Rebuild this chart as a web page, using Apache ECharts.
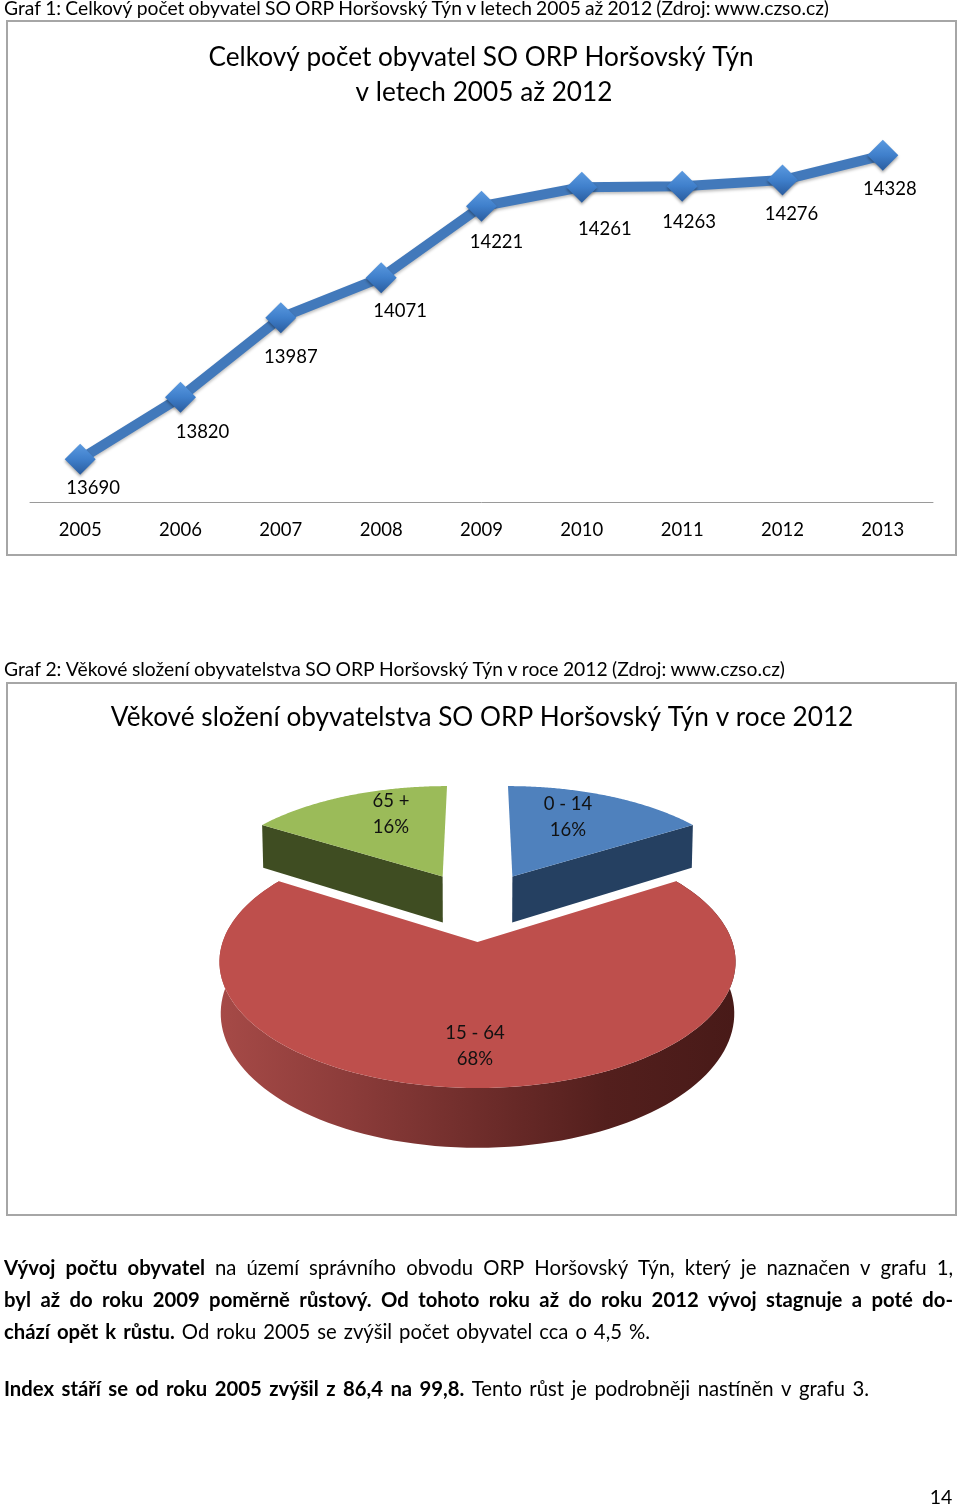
<!DOCTYPE html>
<html>
<head>
<meta charset="utf-8">
<title>Graf</title>
<style>
  html, body { margin: 0; padding: 0; background: #fff; }
  #chart { width: 960px; height: 1506px; }
</style>
<script src="https://cdn.jsdelivr.net/npm/echarts@6/dist/echarts.min.js"></script>
</head>
<body>
<div id="chart"></div>
<script>
  // graf 1
  var years = ["2005", "2006", "2007", "2008", "2009", "2010", "2011", "2012", "2013"];
  var population = [13690, 13820, 13987, 14071, 14221, 14261, 14263, 14276, 14328];
  // posun popisku od bodu
  var labelOffsets = [[13, 29], [22, 35], [10, 39], [19, 33], [15, 36], [23, 42], [7, 36], [9, 34], [7, 34]];

  // graf 2
  var ageGroups = ["0 - 14", "15 - 64", "65 +"];
  var agePercents = [16, 68, 16];
  var ageTopColors = ["#4f81bd", "#be4f4c", "#9bbb59"];
  var ageWallColors = ["#254061", "#7c3432", "#3f4d22"];
  var ageLabelPos = [[568, 817], [475, 1046], [391, 814]];

  var FONT = "Lato";
  var captions = [
    {y: 9, end: 829, runs: [["Graf 1: Celkový počet obyvatel SO ORP Horšovský Týn v letech 2005 až 2012 (Zdroj: www.czso.cz)", 0]]},
    {y: 670, end: 785, runs: [["Graf 2: Věkové složení obyvatelstva SO ORP Horšovský Týn v roce 2012 (Zdroj: www.czso.cz)", 0]]}
  ];
  var textLines = [
    {y: 1268, end: 953, runs: [["Vývoj počtu obyvatel", 1], ["na území správního obvodu ORP Horšovský Týn, který je naznačen v grafu 1,", 0]]},
    {y: 1300, end: 953, runs: [["byl až do roku 2009 poměrně růstový. Od tohoto roku až do roku 2012 vývoj stagnuje a poté do-", 1]]},
    {y: 1332, end: 650, runs: [["chází opět k růstu.", 1], ["Od roku 2005 se zvýšil počet obyvatel cca o 4,5 %.", 0]]},
    {y: 1389, end: 869, runs: [["Index stáří se od roku 2005 zvýšil z 86,4 na 99,8.", 1], ["Tento růst je podrobněji nastíněn v grafu 3.", 0]]}
  ];

  var measureCtx = document.createElement("canvas").getContext("2d");

  // radek rozlozi po slovech, aby sedel levy i pravy okraj
  function lineToWords(line, size) {
    var words = [], total = 0, out = [], x = 4;
    line.runs.forEach(function (r) {
      r[0].split(" ").forEach(function (w) {
        var font = (r[1] ? "bold " : "") + size + "px " + FONT;
        measureCtx.font = font;
        var width = measureCtx.measureText(w).width;
        words.push({text: w, font: font, width: width});
        total += width;
      });
    });
    var gap = (line.end - 4 - total) / (words.length - 1);
    words.forEach(function (w) {
      out.push({
        type: "text",
        style: {text: w.text, x: x, y: line.y, font: w.font, fill: "#000", textVerticalAlign: "middle"}
      });
      x += w.width + gap;
    });
    return out;
  }

  // perspektiva kolacoveho grafu: zem -> obrazovka
  var CX = 477.5, BASE_Y = 905.6, SCALE_X = 243, SCALE_Y = 111.9, PERSP = 0.15, EXPLODE = 0.31, WALL = 48;

  function project(gx, gy, bottom) {
    var w = 1 + PERSP * gy, sx = SCALE_X * gx / w;
    return [
      CX + sx * (bottom ? 0.995 : 1),
      BASE_Y - SCALE_Y * gy / w + (bottom ? WALL / w : 0)
    ];
  }

  function rim(mid, a) {
    return [EXPLODE * Math.sin(mid) + Math.sin(a), EXPLODE * Math.cos(mid) + Math.cos(a)];
  }

  function renderSlice(params, api) {
    var i = api.value(0), start = 0, j, total = 0;
    for (j = 0; j < agePercents.length; j++) total += agePercents[j];
    for (j = 0; j < i; j++) start += agePercents[j];
    var a0 = start / total * Math.PI * 2,
      a1 = (start + api.value(1)) / total * Math.PI * 2,
      mid = (a0 + a1) / 2,
      tip = [EXPLODE * Math.sin(mid), EXPLODE * Math.cos(mid)],
      top = [project(tip[0], tip[1])],
      children = [], n = 120, k, g, wall;

    for (k = 0; k <= n; k++) {
      g = rim(mid, a0 + (a1 - a0) * k / n);
      top.push(project(g[0], g[1]));
    }

    if (i === 1) {
      // vnejsi stena cerveneho dilu
      wall = [];
      for (k = 0; k <= n; k++) {
        g = rim(mid, a0 + (a1 - a0) * k / n);
        wall.push(project(g[0], g[1]));
      }
      for (k = n; k >= 0; k--) {
        g = rim(mid, a0 + (a1 - a0) * k / n);
        wall.push(project(g[0], g[1], true));
      }
      children.push({
        type: "polygon",
        shape: {points: wall},
        style: {
          fill: new echarts.graphic.LinearGradient(0, 0, 1, 0, [
            {offset: 0, color: "#a64a47"},
            {offset: 0.25, color: "#8c3c3a"},
            {offset: 0.5, color: "#6f2d2b"},
            {offset: 0.75, color: "#531f1d"},
            {offset: 1, color: "#481a18"}
          ])
        }
      });
    } else {
      // rezna stena modreho a zeleneho dilu
      var edge = i === 0 ? a1 : a0;
      g = rim(mid, edge);
      children.push({
        type: "polygon",
        shape: {points: [
          project(tip[0], tip[1]), project(g[0], g[1]),
          project(g[0], g[1], true), project(tip[0], tip[1], true)
        ]},
        style: {fill: ageWallColors[i]}
      });
    }

    children.push({
      type: "polygon",
      shape: {points: top},
      style: {fill: ageTopColors[i]}
    });
    children.push({
      type: "text",
      style: {
        text: ageGroups[i] + "\n" + api.value(1) + "%",
        x: ageLabelPos[i][0], y: ageLabelPos[i][1],
        font: "18.5px " + FONT, fill: "#111", lineHeight: 26,
        align: "center", verticalAlign: "middle"
      }
    });
    return {type: "group", children: children};
  }

  var graphics = [
    {type: "rect", z: -1, shape: {x: 7, y: 21, width: 949, height: 534}, style: {fill: "#fff", stroke: "#a6a6a6", lineWidth: 2}},
    {type: "rect", z: -1, shape: {x: 7, y: 683, width: 949, height: 532}, style: {fill: "#fff", stroke: "#a6a6a6", lineWidth: 2}},
    {type: "text", style: {text: "14", x: 941, y: 1498, font: "19.5px " + FONT, fill: "#000", align: "center", verticalAlign: "middle"}}
  ];
  captions.forEach(function (l) { graphics = graphics.concat(lineToWords(l, 19.3)); });
  textLines.forEach(function (l) { graphics = graphics.concat(lineToWords(l, 20.3)); });

  var titleStyle = {fontFamily: FONT, fontSize: 26.2, fontWeight: "normal", color: "#000", lineHeight: 35};

  var chart = echarts.init(document.getElementById("chart"), null, {renderer: "canvas"});
  chart.setOption({
    animation: false,
    backgroundColor: "#fff",
    title: [
      {text: "Celkový počet obyvatel SO ORP Horšovský Týn", left: 476, top: 35, textAlign: "center", textStyle: titleStyle},
      {text: "v letech 2005 až 2012", left: 479, top: 70, textAlign: "center", textStyle: titleStyle},
      {text: "Věkové složení obyvatelstva SO ORP Horšovský Týn v roce 2012", left: 477, top: 695, textAlign: "center", textStyle: titleStyle}
    ],
    grid: {left: 30, right: 27, top: 121, height: 381},
    xAxis: {
      type: "category",
      data: years,
      axisLine: {lineStyle: {color: "#9a9a9a", width: 1}},
      axisTick: {show: false},
      axisLabel: {margin: 19, color: "#000", fontFamily: FONT, fontSize: 18.5}
    },
    yAxis: {type: "value", min: 13600, max: 14400, interval: 200, show: false, splitLine: {show: false}},
    series: [
      {
        type: "line",
        data: population.map(function (v, i) {
          return {
            value: v,
            label: {offset: labelOffsets[i]}
          };
        }),
        symbol: "diamond",
        symbolSize: 31,
        showAllSymbol: true,
        lineStyle: {color: "#4279bb", width: 10, shadowColor: "rgba(0,0,0,.25)", shadowBlur: 3, shadowOffsetY: 2},
        itemStyle: {
          color: new echarts.graphic.LinearGradient(0, 0, 0, 1, [
            {offset: 0, color: "#5b9ae0"},
            {offset: 0.5, color: "#3f7fcb"},
            {offset: 1, color: "#2a5c9e"}
          ]),
          shadowColor: "rgba(0,0,0,.35)", shadowBlur: 3, shadowOffsetY: 2
        },
        label: {
          show: true, position: "inside", color: "#000",
          fontFamily: FONT, fontSize: 18.5
        },
        z: 3
      },
      {
        type: "custom",
        coordinateSystem: "none",
        renderItem: renderSlice,
        data: agePercents.map(function (v, i) { return [i, v]; }),
        encode: {value: 1},
        z: 2
      }
    ],
    graphic: graphics
  });
</script>
</body>
</html>
